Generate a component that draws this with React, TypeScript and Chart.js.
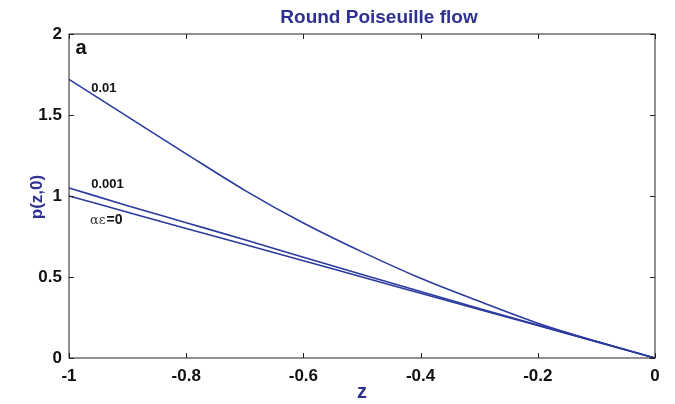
import React, { useEffect, useRef } from 'react';
import { Chart, registerables } from 'chart.js';

Chart.register(...registerables);

// ---- data ----
const zValues = [-1, -0.9, -0.8, -0.7, -0.6, -0.5, -0.4, -0.3, -0.2, -0.1, 0];
const pAlpha001 = [1.72, 1.49, 1.26, 1.035, 0.833, 0.655, 0.492, 0.35, 0.215, 0.103, 0];
const pAlpha0001 = [1.05, 0.94, 0.835, 0.73, 0.622, 0.515, 0.41, 0.306, 0.203, 0.101, 0];
const pAlpha0 = [1.0, 0.9, 0.8, 0.7, 0.6, 0.5, 0.4, 0.3, 0.2, 0.1, 0];
const xTicks = [-1, -0.8, -0.6, -0.4, -0.2, 0];
const yTicks = [0, 0.5, 1, 1.5, 2];
const seriesNames = ['0.01', '0.001', 'αε=0'];

// annotation anchors in data coordinates (z, p)
const curveLabelZ = [-0.962, -0.962, -0.964];
const curveLabelP = [1.64, 1.048, 0.827];
const panelLabel = 'a';
const panelLabelZ = -0.989;
const panelLabelP = 1.877;

const titleText = 'Round Poiseuille flow';
const xTitle = 'z';
const yTitle = 'p(z,0)';

const LINE = '#2B3A9E';
const TEXT_BLUE = '#2E3192';
const SANS = '"Liberation Sans", Arial, Helvetica, sans-serif';

const fmt = (v: number) => {
  if (Math.abs(v) < 1e-9) return '0';
  return String(Math.round(v * 10) / 10);
};

const decorPlugin = {
  id: 'decor',
  afterDatasetsDraw(chart: any) {
    const { ctx, chartArea } = chart;
    const { left, right, top, bottom } = chartArea;
    const xs = chart.scales.x;
    const ys = chart.scales.y;
    ctx.save();
    // box
    ctx.strokeStyle = '#222';
    ctx.lineWidth = 1;
    ctx.strokeRect(left, top, right - left, bottom - top);
    // inward ticks
    const tl = 5;
    ctx.beginPath();
    xTicks.forEach((v) => {
      const px = Math.round(xs.getPixelForValue(v)) + 0.5;
      ctx.moveTo(px, bottom);
      ctx.lineTo(px, bottom - tl);
      ctx.moveTo(px, top);
      ctx.lineTo(px, top + tl);
    });
    yTicks.forEach((v) => {
      const py = Math.round(ys.getPixelForValue(v)) + 0.5;
      ctx.moveTo(left, py);
      ctx.lineTo(left + tl, py);
      ctx.moveTo(right, py);
      ctx.lineTo(right - tl, py);
    });
    ctx.stroke();

    // title
    ctx.fillStyle = TEXT_BLUE;
    ctx.font = `bold 19px ${SANS}`;
    ctx.textAlign = 'center';
    ctx.textBaseline = 'alphabetic';
    ctx.fillText(titleText, 379, 23);

    // x title
    ctx.font = `bold 20px ${SANS}`;
    ctx.fillText(xTitle, (left + right) / 2, 398);

    // y title
    ctx.save();
    ctx.translate(37, (top + bottom) / 2 + 1);
    ctx.rotate(-Math.PI / 2);
    ctx.font = `bold 17px ${SANS}`;
    ctx.textBaseline = 'middle';
    ctx.fillText(yTitle, 0, 0);
    ctx.restore();

    // panel label
    ctx.fillStyle = '#111';
    ctx.textAlign = 'left';
    ctx.textBaseline = 'alphabetic';
    ctx.font = `bold 20px ${SANS}`;
    ctx.fillText(panelLabel, xs.getPixelForValue(panelLabelZ), ys.getPixelForValue(panelLabelP));

    // curve labels
    seriesNames.forEach((name, i) => {
      const px = xs.getPixelForValue(curveLabelZ[i]);
      const py = ys.getPixelForValue(curveLabelP[i]);
      if (name.startsWith('αε')) {
        ctx.font = `13px "DejaVu Serif", "Liberation Serif", serif`;
        ctx.fillStyle = '#333';
        const greek = 'αε';
        ctx.fillText(greek, px, py);
        const w = ctx.measureText(greek).width;
        ctx.font = `bold 14px ${SANS}`;
        ctx.fillStyle = '#111';
        ctx.fillText(name.slice(2), px + w + 1, py);
      } else {
        ctx.font = `bold 13px ${SANS}`;
        ctx.fillStyle = '#111';
        ctx.fillText(name, px, py);
      }
    });
    ctx.restore();
  },
};

export default function App() {
  const canvasRef = useRef<HTMLCanvasElement | null>(null);

  useEffect(() => {
    document.body.style.margin = '0';
    const canvas = canvasRef.current;
    if (!canvas) return;
    const mk = (vals: number[]) => zValues.map((z, i) => ({ x: z, y: vals[i] }));
    const series = [pAlpha001, pAlpha0001, pAlpha0];
    const chart = new Chart(canvas, {
      type: 'line',
      data: {
        datasets: series.map((vals, i) => ({
          label: seriesNames[i],
          data: mk(vals),
          borderColor: LINE,
          backgroundColor: LINE,
          borderWidth: 1.6,
          pointRadius: 0,
          fill: false,
          cubicInterpolationMode: 'monotone' as const,
        })),
      },
      options: {
        animation: false,
        responsive: false,
        maintainAspectRatio: false,
        layout: { padding: { left: 0, top: 34, right: 20, bottom: 0 } },
        plugins: {
          legend: { display: false },
          title: { display: false },
          tooltip: { enabled: false },
        },
        scales: {
          x: {
            type: 'linear',
            min: -1,
            max: 0,
            grid: { display: false, drawTicks: false },
            border: { display: false },
            afterBuildTicks: (s: any) => {
              s.ticks = xTicks.map((v) => ({ value: v }));
            },
            afterFit: (s: any) => {
              s.height = 46;
            },
            ticks: {
              autoSkip: false,
              maxRotation: 0,
              padding: 8,
              color: '#111',
              font: { family: SANS, size: 17, weight: 'bold' },
              callback: (v: any) => fmt(Number(v)),
            },
          },
          y: {
            type: 'linear',
            min: 0,
            max: 2,
            grid: { display: false, drawTicks: false },
            border: { display: false },
            afterBuildTicks: (s: any) => {
              s.ticks = yTicks.map((v) => ({ value: v }));
            },
            afterFit: (s: any) => {
              s.width = 69;
            },
            ticks: {
              padding: 7,
              color: '#111',
              font: { family: SANS, size: 17, weight: 'bold' },
              callback: (v: any) => fmt(Number(v)),
            },
          },
        },
      },
      plugins: [decorPlugin],
    });
    return () => chart.destroy();
  }, []);

  return (
    <div style={{ width: 675, height: 404, background: '#fff' }}>
      <canvas ref={canvasRef} width={675} height={404} style={{ display: 'block' }} />
    </div>
  );
}
